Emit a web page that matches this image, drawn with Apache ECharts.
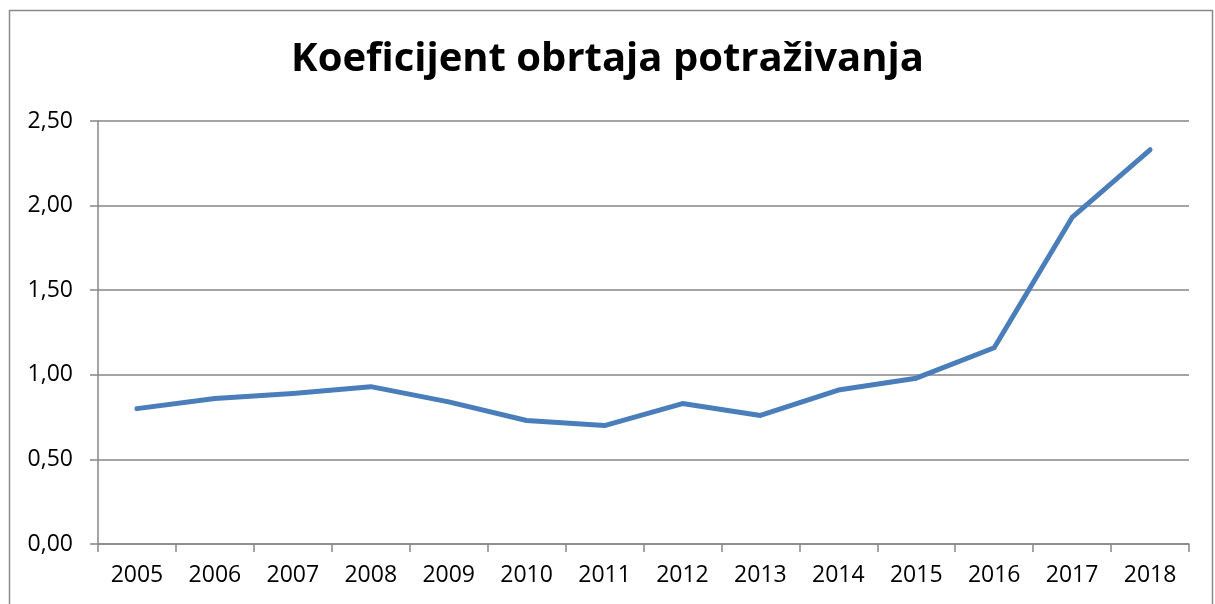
<!DOCTYPE html>
<html>
<head>
<meta charset="utf-8">
<script src="https://cdn.jsdelivr.net/npm/echarts@6/dist/echarts.min.js"></script>
<style>
html,body{margin:0;padding:0;background:#fff;}
#c{width:1215px;height:604px;}
</style>
</head>
<body>
<div id="c"></div>
<script>
const title = "Koeficijent obrtaja potraživanja";
const years = ["2005","2006","2007","2008","2009","2010","2011","2012","2013","2014","2015","2016","2017","2018"];
const values = [0.80, 0.86, 0.89, 0.93, 0.84, 0.73, 0.70, 0.83, 0.76, 0.91, 0.98, 1.16, 1.93, 2.33];
const yTicks = { min: 0, max: 2.5, interval: 0.5 };

const chart = echarts.init(document.getElementById('c'), null, { renderer: 'canvas' });
const font = "'Open Sans', 'Noto Sans', sans-serif";
chart.setOption({
  backgroundColor: '#ffffff',
  animation: false,
  graphic: [{
    type: 'rect',
    shape: { x: 9.5, y: 10.5, width: 1203, height: 620 },
    style: { fill: 'none', stroke: '#8a8a8a', lineWidth: 1.5 },
    silent: true
  }],
  title: {
    text: title,
    left: 'center',
    top: 35,
    textStyle: { fontFamily: font, fontWeight: 'bold', fontSize: 40, color: '#000' }
  },
  grid: { left: 98, right: 26, top: 121, bottom: 60 },
  xAxis: {
    type: 'category',
    data: years,
    boundaryGap: true,
    axisLine: { show: true, lineStyle: { color: '#868686', width: 1.5 } },
    axisTick: { show: true, length: 8, inside: false, lineStyle: { color: '#868686', width: 1.5 } },
    axisLabel: { color: '#000', fontFamily: font, fontSize: 23, margin: 20 },
    splitLine: { show: false }
  },
  yAxis: {
    type: 'value',
    min: yTicks.min,
    max: yTicks.max,
    interval: yTicks.interval,
    axisLine: { show: true, lineStyle: { color: '#868686', width: 1.5 } },
    axisTick: { show: true, length: 8, lineStyle: { color: '#868686', width: 1.5 } },
    axisLabel: {
      color: '#000', fontFamily: font, fontSize: 23, margin: 25,
      formatter: v => v.toFixed(2).replace('.', ',')
    },
    splitLine: { show: true, lineStyle: { color: '#868686', width: 1.5 } }
  },
  series: [{
    type: 'line',
    data: values,
    showSymbol: false,
    symbol: 'none',
    lineStyle: { color: '#4a7ebb', width: 5, cap: 'round', join: 'round' },
    itemStyle: { color: '#4a7ebb' }
  }]
});
</script>
</body>
</html>
